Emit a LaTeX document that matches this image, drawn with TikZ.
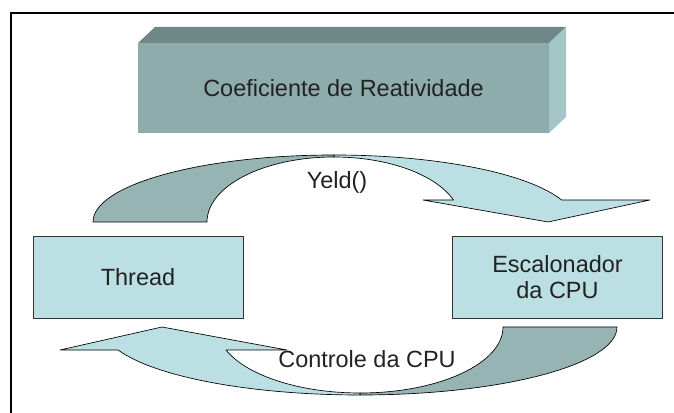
\documentclass[tikz,border=0pt]{standalone}
\usepackage{fontspec}
\setmainfont{Liberation Sans}
\definecolor{boxcyan}{RGB}{188,223,227}
\definecolor{banddark}{RGB}{150,180,180}
\definecolor{coeffront}{RGB}{143,172,172}
\definecolor{coeftop}{RGB}{111,135,135}
\definecolor{coefside}{RGB}{164,197,200}
\definecolor{txtgray}{RGB}{34,34,34}
\newcommand{\bigtext}{\fontsize{17.6pt}{19.5pt}\selectfont}
\tikzset{
	blockbox/.style={draw=black!80, fill=boxcyan, line width=0.6pt, inner sep=0pt,
	outer sep=0pt, minimum width=157.5pt, minimum height=61.5pt, align=center,
	font=\bigtext, text=txtgray},
	darkband/.style={draw=black, fill=banddark, line width=0.5pt, line join=round},
	lightband/.style={draw=black, fill=boxcyan, line width=0.5pt, line join=round},
	txt/.style={font=\bigtext, text=txtgray, inner sep=0pt}
}
\begin{document}
\begin{tikzpicture}[x=0.75pt, y=0.75pt]
	\useasboundingbox (0,0) rectangle (674,413);
	% Rahmen
	\draw[line width=1.2pt] (11,0) -- (11,400) -- (674,400);

	% Quader oben
	\node[fill=coeffront, inner sep=0pt, outer sep=0pt, minimum width=308.25pt,
	minimum height=67.5pt, font=\bigtext, text=txtgray] (coef) at (343.5,325)
	{Coeficiente de Reatividade};
	\fill[coeftop] (coef.north west) -- ++(17,16) -- ++(411,0) -- (coef.north east)
	-- cycle;
	\fill[coefside] (coef.north east) -- ++(17,16) -- ++(0,-90) -- (coef.south east)
	-- cycle;

	% Bloecke
	\node[blockbox] (thread) at (138,135.5) {Thread};
	\node[blockbox] (sched) at (557.5,135.5) {Escalonador\\da CPU};

	% Pfeil oben (Yeld)
	\coordinate (ycen) at (334,191);
	\filldraw[darkband] (ycen) ++(-241,0)
		arc[start angle=180, end angle=90, x radius=241, y radius=67]
		-- ++(0,-2)
		arc[start angle=90, end angle=180, x radius=127, y radius=65] -- cycle;
	\filldraw[lightband] (ycen) ++(0,67)
		arc[start angle=90, end angle=19.2, x radius=241, y radius=67]
		-- (650,213) -- (548,191) -- (423,213) -- (453.5,213)
		arc[start angle=19.8, end angle=90, x radius=127, y radius=65] -- cycle;
	\node[txt] (yeld) at (337,231) {Yeld()};

	% Pfeil unten (Controle)
	\coordinate (ccen) at (360,86);
	\filldraw[darkband] (ccen) ++(257,0)
		arc[start angle=0, end angle=-90, x radius=257, y radius=68]
		-- ++(0,2)
		arc[start angle=-90, end angle=0, x radius=143, y radius=66] -- cycle;
	\filldraw[lightband] (ccen) ++(0,-68)
		arc[start angle=270, end angle=199.8, x radius=257, y radius=68]
		-- (60,63) -- (162,86) -- (287,63) -- (226,63)
		arc[start angle=200.4, end angle=270, x radius=143, y radius=66] -- cycle;
	\node[txt] (ctrl) at (367,54) {Controle da CPU};
\end{tikzpicture}
\end{document}
